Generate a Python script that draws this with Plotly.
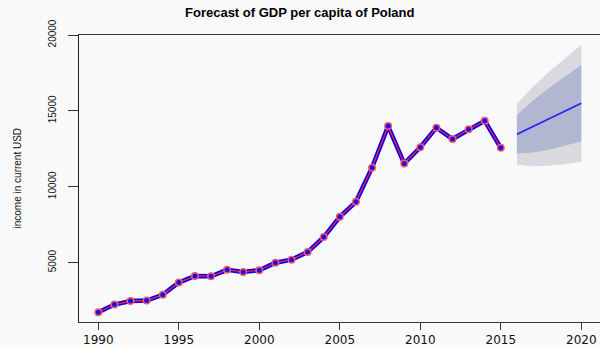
import plotly.graph_objects as go

# GDP per capita of Poland, current USD
years = list(range(1990, 2016))
gdp = [1731, 2235, 2470, 2504, 2878, 3686, 4124, 4102, 4525, 4390,
       4501, 4991, 5196, 5694, 6681, 8022, 9008, 11255, 13996, 11527,
       12600, 13893, 13145, 13781, 14347, 12566]

# Five-year forecast with 80% and 95% prediction intervals
fc_years = [2016, 2017, 2018, 2019, 2020]
fc_mean = [13460, 13970, 14480, 14990, 15500]
lo80 = [12188, 12261, 12451, 12698, 12979]
hi80 = [14732, 15679, 16509, 17282, 18021]
lo95 = [11471, 11355, 11376, 11483, 11642]
hi95 = [15449, 16585, 17584, 18497, 19358]

x_ticks = [1990, 1995, 2000, 2005, 2010, 2015, 2020]
y_ticks = [5000, 10000, 15000, 20000]

bg = "#f9f9f9"
font = "Liberation Sans"

fig = go.Figure()

# 95% band
fig.add_trace(go.Scatter(
    x=fc_years + fc_years[::-1], y=hi95 + lo95[::-1],
    fill="toself", fillcolor="#d9d9df", line=dict(width=0),
    mode="lines", hoverinfo="skip", showlegend=False))
# 80% band
fig.add_trace(go.Scatter(
    x=fc_years + fc_years[::-1], y=hi80 + lo80[::-1],
    fill="toself", fillcolor="#b1b6d1", line=dict(width=0),
    mode="lines", hoverinfo="skip", showlegend=False))
# point forecast
fig.add_trace(go.Scatter(
    x=fc_years, y=fc_mean, mode="lines",
    line=dict(color="#2222ff", width=1.6), showlegend=False))

# observed series: thick blue line, thin red line, circled points
fig.add_trace(go.Scatter(
    x=years, y=gdp, mode="lines",
    line=dict(color="#0000ff", width=4.5), showlegend=False))
fig.add_trace(go.Scatter(
    x=years, y=gdp, mode="lines+markers",
    line=dict(color="#ff2020", width=1.3),
    marker=dict(symbol="circle", size=6.5, color="#1010ff",
                line=dict(color="#ff5a5a", width=1.5)),
    showlegend=False))

fig.update_layout(
    width=600, height=347,
    margin=dict(l=79, r=0, t=35, b=22),
    paper_bgcolor=bg, plot_bgcolor=bg,
    font=dict(family=font, color="#111111"),
    showlegend=False,
    xaxis=dict(
        range=[1988.8, 2021.16], tickvals=x_ticks,
        ticktext=[str(v) for v in x_ticks],
        showgrid=False, zeroline=False,
        showline=True, linecolor="#333333", linewidth=1, mirror=True,
        ticks="outside", ticklen=7, tickcolor="#333333",
        tickfont=dict(family="DejaVu Sans", size=12, color="#111111"),
    ),
    yaxis=dict(
        range=[1087, 20000], tickvals=y_ticks,
        ticktext=[str(v) for v in y_ticks],
        showgrid=False, zeroline=False,
        showline=True, linecolor="#222222", linewidth=1,
        ticks="outside", ticklen=10, tickcolor="#333333",
        tickangle=-90, ticklabelstandoff=8,
        tickfont=dict(family=font, size=10, color="#111111"),
    ),
    annotations=[
        dict(text="<b>Forecast of GDP per capita of Poland</b>",
             xref="paper", yref="paper", x=(300 - 79) / 521, y=1 + 23 / 290,
             xanchor="center", yanchor="middle", showarrow=False,
             font=dict(family=font, size=13, color="#000000")),
        dict(text="income in current USD",
             xref="paper", yref="paper", x=(17 - 79) / 521, y=0.5,
             xanchor="center", yanchor="middle", textangle=-90,
             showarrow=False,
             font=dict(family=font, size=10, color="#111111")),
    ],
)

fig.write_html("out.html")
